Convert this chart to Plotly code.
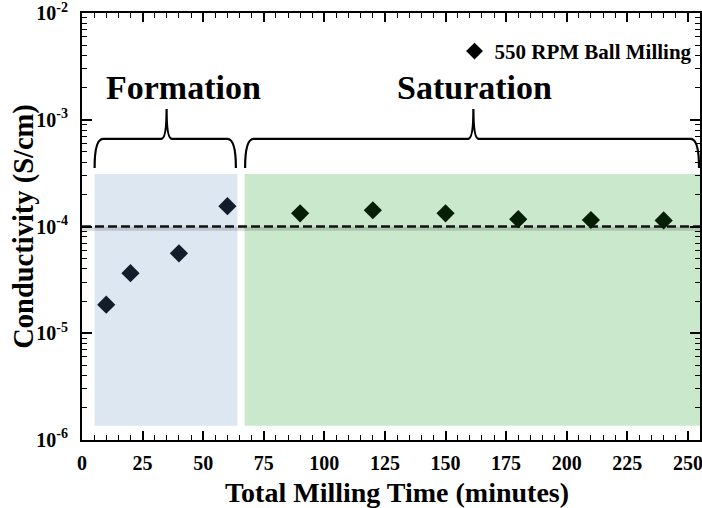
import plotly.graph_objects as go

# Data
formation_time = [10, 20, 40, 60]
formation_cond = [1.85e-5, 3.65e-5, 5.6e-5, 1.55e-4]
saturation_time = [90, 120, 150, 180, 210, 240]
saturation_cond = [1.33e-4, 1.42e-4, 1.33e-4, 1.17e-4, 1.15e-4, 1.14e-4]
reference_level = 1e-4
y_tick_vals = [1e-6, 1e-5, 1e-4, 1e-3, 1e-2]
y_tick_text = ["10<sup>-6</sup>", "10<sup>-5</sup>", "10<sup>-4</sup>", "10<sup>-3</sup>", "10<sup>-2</sup>"]
x_tick_vals = [0, 25, 50, 75, 100, 125, 150, 175, 200, 225, 250]

X_MAX = 255
FONT = "Liberation Serif"

fig = go.Figure()

# shaded regions
fig.add_shape(type="rect", xref="x", yref="y", x0=5.2, x1=64.1, y0=1.36e-6, y1=3.1e-4,
              fillcolor="#dde7f2", line_width=0, layer="below")
fig.add_shape(type="rect", xref="x", yref="y", x0=67.1, x1=X_MAX, y0=1.36e-6, y1=3.1e-4,
              fillcolor="#cae8cc", line_width=0, layer="below")

# shadow of dashed line
fig.add_trace(go.Scatter(x=[0, X_MAX], y=[reference_level * 0.955, reference_level * 0.955],
                         mode="lines", line=dict(color="rgba(0,0,0,0.15)", width=4, dash="solid"),
                         showlegend=False, hoverinfo="skip"))
fig.add_trace(go.Scatter(x=[0, X_MAX], y=[reference_level, reference_level],
                         mode="lines", line=dict(color="#111111", width=2.5, dash="9px,4px"),
                         showlegend=False, hoverinfo="skip"))

fig.add_trace(go.Scatter(x=formation_time, y=formation_cond, mode="markers",
                         marker=dict(symbol="diamond", size=14, color="#131c2b"),
                         showlegend=False))
fig.add_trace(go.Scatter(x=saturation_time, y=saturation_cond, mode="markers",
                         marker=dict(symbol="diamond", size=14, color="#061d06"),
                         showlegend=False))
# legend entry
fig.add_trace(go.Scatter(x=[None], y=[None], mode="markers", name="550 RPM Ball Milling",
                         marker=dict(symbol="diamond", size=13, color="black")))


def brace(x0, xm, x1, yb, yh, yp, dx=3.5, dt=2.2):
    return (f"M {x0},{yb} Q {x0},{yh} {x0+dx},{yh} L {xm-dt},{yh} "
            f"Q {xm},{yh} {xm},{yp} Q {xm},{yh} {xm+dt},{yh} "
            f"L {x1-dx},{yh} Q {x1},{yh} {x1},{yb}")


yb, yh, yp = 0.637, 0.705, 0.775
fig.add_shape(type="path", xref="x", yref="paper",
              path=brace(5.2, 34.9, 63.5, yb, yh, yp), line=dict(color="black", width=2.2))
fig.add_shape(type="path", xref="x", yref="paper",
              path=brace(67.3, 161.5, 254.6, yb, yh, yp), line=dict(color="black", width=2.2))

fig.add_annotation(x=42, y=0.825, xref="x", yref="paper", text="Formation", showarrow=False,
                   yanchor="middle",
                   font=dict(family=FONT, size=34, color="black", weight="bold"))
fig.add_annotation(x=162, y=0.825, xref="x", yref="paper", text="Saturation", showarrow=False,
                   yanchor="middle",
                   font=dict(family=FONT, size=34, color="black", weight="bold"))

# axis titles as annotations for precise placement
fig.add_annotation(x=0.51, y=-0.124, xref="paper", yref="paper", text="Total Milling Time (minutes)",
                   showarrow=False, xanchor="center", yanchor="middle",
                   font=dict(family=FONT, size=28, color="black", weight="bold"))
fig.add_annotation(x=-0.095, y=0.5, xref="paper", yref="paper", text="Conductivity (S/cm)",
                   showarrow=False, textangle=-90, xanchor="center", yanchor="middle",
                   font=dict(family=FONT, size=28.5, color="black", weight="bold"))

fig.update_xaxes(range=[0, X_MAX], tickmode="array", tickvals=x_tick_vals, automargin=False,
                 ticks="inside", ticklen=9, tickwidth=1.5, tickcolor="black", ticklabelstandoff=4,
                 ticklabeloverflow="allow",
                 minor=dict(dtick=5, ticks="inside", ticklen=5, tickwidth=1.2, tickcolor="black", showgrid=False),
                 showline=True, linecolor="black", linewidth=2, mirror="ticks",
                 showgrid=False, zeroline=False,
                 tickfont=dict(family=FONT, size=20, color="black", weight="bold"))

minor_vals = [m * 10 ** e for e in range(-6, -2) for m in range(2, 10)]
fig.update_yaxes(type="log", range=[-6.001, -1.999], tickmode="array", tickvals=y_tick_vals,
                 ticktext=y_tick_text, automargin=False, ticklabelstandoff=8,
                 ticklabeloverflow="allow",
                 ticks="inside", ticklen=10, tickwidth=1.5, tickcolor="black",
                 minor=dict(tickmode="array", tickvals=minor_vals, ticks="inside", ticklen=5,
                            tickwidth=1.2, tickcolor="black", showgrid=False),
                 showline=True, linecolor="black", linewidth=2, mirror="ticks",
                 showgrid=False, zeroline=False,
                 tickfont=dict(family=FONT, size=20, color="black", weight="bold"))

fig.update_layout(width=702, height=508, margin=dict(l=82, r=2, t=13, b=68),
                  paper_bgcolor="white", plot_bgcolor="white",
                  legend=dict(x=0.996, y=0.958, xanchor="right", yanchor="top",
                              bgcolor="rgba(0,0,0,0)", itemwidth=30,
                              font=dict(family=FONT, size=21, color="black", weight="bold")))

# remove the default 8px page margin so the figure fills the window exactly
fig.write_html("out.html", config={"displayModeBar": False},
               post_script="document.body.style.margin='0';document.body.style.overflow='hidden';")
